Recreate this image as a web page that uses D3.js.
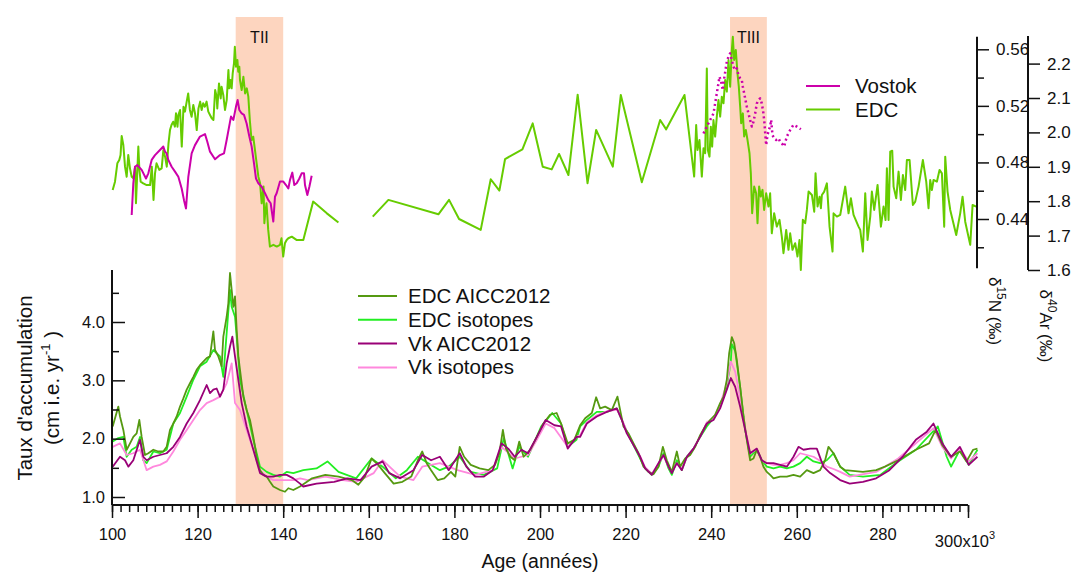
<!DOCTYPE html>
<html><head><meta charset="utf-8">
<script src="https://cdn.jsdelivr.net/npm/d3@7"></script>
<style>body{margin:0;background:#fff}svg{display:block}text{font-family:"Liberation Sans",Arial,sans-serif;fill:#111}</style>
</head><body><svg id="c" width="1074" height="572"></svg>
<script>
// ---------- DATA ----------
const xMajorTicks = [100,120,140,160,180,200,220,240,260,280,300];
const accTicks = [1.0,2.0,3.0,4.0];
const accMinorTicks = [1.5,2.5,3.5,4.5];
const d15NTicks = [0.44,0.48,0.52,0.56];
const d15NMinorTicks = [0.42,0.46,0.50,0.54];
const d40ArTicks = [1.6,1.7,1.8,1.9,2.0,2.1,2.2];
const terminations = [{name:"TII",start:128.9,end:140.0},{name:"TIII",start:244.4,end:253.0}];
const bottomLegend = ["EDC AICC2012","EDC isotopes","Vk AICC2012","Vk isotopes"];
const topLegend = ["Vostok","EDC"];

// EDC δ15N (top panel, two segments)
const edcD15N_a = [[100.16,0.4605],[100.7,0.4664],[101.25,0.4794],[101.7,0.4817],[102.0,0.4853],[102.26,0.4987],[102.65,0.4923],[103.04,0.4770],[103.43,0.4699],[103.8,0.4853],[104.2,0.4758],[104.6,0.4699],[105.0,0.4688],[105.4,0.4770],[105.6,0.4511],[105.9,0.4723],[106.15,0.4912],[106.4,0.4747],[106.7,0.4664],[107.3,0.4652],[108.1,0.4640],[108.9,0.4640],[109.3,0.4770],[109.7,0.4535],[110.05,0.4723],[110.4,0.4794],[111.05,0.4747],[111.6,0.4758],[112.0,0.4888],[112.4,0.4841],[112.8,0.4770],[113.2,0.4935],[113.55,0.5029],[113.9,0.5065],[114.3,0.5088],[114.7,0.5053],[114.95,0.5147],[115.3,0.5053],[115.5,0.5135],[115.9,0.5171],[116.3,0.4912],[116.7,0.5194],[117.05,0.5159],[117.45,0.5230],[117.8,0.5288],[118.2,0.5171],[118.6,0.5123],[119.0,0.5206],[119.4,0.5147],[119.8,0.5029],[120.2,0.5182],[120.6,0.5230],[120.95,0.5171],[121.3,0.5218],[121.7,0.5194],[122.1,0.5230],[122.5,0.5159],[122.9,0.5135],[123.3,0.5112],[123.7,0.5100],[124.1,0.5312],[124.45,0.5265],[124.6,0.5182],[125.0,0.5359],[125.4,0.5253],[125.6,0.5335],[126.0,0.5277],[126.4,0.5171],[126.8,0.5241],[127.2,0.5453],[127.4,0.5324],[127.7,0.5383],[127.96,0.5324],[128.2,0.5430],[128.5,0.5500],[128.7,0.5618],[128.97,0.5477],[129.3,0.5524],[129.5,0.5442],[129.75,0.5477],[129.9,0.5383],[130.3,0.5312],[130.7,0.5406],[131.1,0.5288],[131.5,0.5324],[131.85,0.5265],[132.2,0.5100],[132.6,0.4959],[133.0,0.4982],[133.4,0.4888],[133.8,0.4794],[134.2,0.4699],[134.6,0.4652],[134.97,0.4511],[135.4,0.4629],[135.6,0.4370],[135.8,0.4440],[136.1,0.4511],[136.5,0.4323],[136.9,0.4205],[137.7,0.4217],[138.5,0.4205],[139.25,0.4217],[139.6,0.4264],[140.0,0.4134],[140.4,0.4228],[140.8,0.4252],[141.2,0.4264],[142.0,0.4275],[143.1,0.4252],[144.7,0.4252],[147.0,0.4523],[150.2,0.4440],[152.9,0.4375]];
const edcD15N_b = [[160.92,0.4417],[164.58,0.4535],[176.26,0.4433],[178.75,0.4535],[181.09,0.4400],[186.15,0.4323],[188.49,0.4681],[190.51,0.4601],[191.84,0.4824],[195.89,0.4893],[198.3,0.5076],[200.64,0.4770],[202.74,0.4751],[204.45,0.4860],[206.64,0.4711],[208.8,0.5279],[211.1,0.4653],[213.12,0.5030],[217.01,0.4770],[218.88,0.5277],[223.79,0.4660],[228.07,0.5100],[229.48,0.5034],[233.76,0.5277],[236.02,0.4700],[236.49,0.5065],[236.8,0.4888],[237.26,0.4959],[237.81,0.4700],[238.2,0.4900],[238.59,0.4865],[238.98,0.5465],[239.21,0.4888],[239.6,0.4841],[239.91,0.5053],[240.22,0.4912],[240.53,0.5100],[240.92,0.4983],[241.31,0.5124],[241.7,0.5242],[242.09,0.5124],[242.48,0.5265],[242.87,0.5218],[243.26,0.5383],[243.65,0.5301],[244.04,0.5524],[244.43,0.5336],[244.82,0.5595],[245.05,0.5689],[245.36,0.5524],[245.75,0.5595],[246.14,0.5430],[246.45,0.5336],[246.77,0.5195],[247.0,0.5077],[247.39,0.5147],[247.7,0.4983],[248.09,0.5030],[248.48,0.4959],[248.95,0.4865],[249.26,0.4723],[249.57,0.4441],[250.04,0.4629],[250.5,0.4582],[250.82,0.4370],[251.2,0.4629],[251.6,0.4559],[251.99,0.4606],[252.37,0.4464],[252.84,0.4582],[253.38,0.4488],[253.77,0.4582],[254.16,0.4299],[254.71,0.4441],[255.33,0.4346],[255.96,0.4394],[256.5,0.4276],[256.89,0.4158],[257.52,0.4323],[258.06,0.4182],[258.45,0.4299],[258.99,0.4182],[259.62,0.4229],[260.16,0.4135],[260.63,0.4252],[260.94,0.4040],[261.41,0.4394],[261.96,0.4370],[262.35,0.4464],[262.75,0.4594],[263.53,0.4570],[264.07,0.4452],[264.38,0.4723],[264.85,0.4488],[265.32,0.4558],[265.63,0.4476],[265.86,0.4570],[266.41,0.4594],[267.03,0.4652],[267.65,0.4346],[268.35,0.4170],[268.59,0.4440],[269.37,0.4417],[270.15,0.4429],[271.31,0.4629],[272.09,0.4440],[272.64,0.4546],[273.26,0.4429],[274.43,0.4346],[274.82,0.4323],[275.44,0.4170],[275.99,0.4582],[276.53,0.4252],[277.16,0.4417],[277.54,0.4594],[278.09,0.4464],[278.87,0.4641],[279.65,0.4346],[280.27,0.4488],[280.74,0.4393],[281.05,0.4758],[281.44,0.4393],[281.83,0.4876],[282.3,0.4883],[282.61,0.4629],[283.23,0.4546],[283.78,0.4735],[284.32,0.4535],[284.79,0.4711],[285.33,0.4605],[285.72,0.4817],[286.35,0.4817],[287.12,0.4499],[287.67,0.4523],[288.45,0.4629],[289.46,0.4817],[290.24,0.4664],[290.78,0.4476],[291.17,0.4676],[291.56,0.4605],[291.95,0.4676],[292.73,0.4664],[293.35,0.4747],[293.9,0.4723],[294.44,0.4346],[294.68,0.4841],[295.22,0.4594],[295.85,0.4464],[297.25,0.4287],[298.18,0.4440],[298.73,0.4558],[299.35,0.4381],[300.52,0.4217],[301.07,0.4499],[301.92,0.4488]];
// Vostok δ40Ar (top panel)
const vostokD40Ar_TII = [[104.6,1.760],[104.98,1.852],[105.37,1.900],[105.92,1.905],[106.93,1.891],[107.94,1.866],[108.49,1.881],[109.27,1.920],[110.05,1.934],[111.21,1.949],[111.99,1.959],[112.38,1.944],[112.77,1.939],[113.16,1.920],[113.94,1.900],[114.72,1.886],[115.5,1.871],[116.28,1.837],[116.82,1.803],[117.29,1.779],[117.83,1.871],[118.61,1.939],[119.39,1.963],[120.56,1.988],[121.73,1.995],[122.27,1.973],[122.9,1.944],[124.07,1.922],[125.23,1.934],[126.17,1.939],[126.79,1.978],[127.8,2.046],[128.35,2.036],[128.97,2.075],[129.36,2.094],[129.75,2.065],[130.3,2.055],[130.84,2.051],[131.46,2.026],[132.09,1.988],[132.63,1.959],[133.18,1.910],[133.64,1.866],[134.19,1.852],[134.97,1.842],[135.75,1.823],[136.53,1.803],[137.07,1.794],[137.69,1.741],[138.08,1.813],[138.47,1.823],[139.25,1.857],[140.03,1.857],[140.65,1.847],[141.2,1.837],[141.59,1.862],[142.13,1.883],[142.6,1.847],[143.15,1.852],[143.77,1.866],[144.31,1.881],[144.86,1.881],[145.09,1.847],[145.64,1.818],[146.11,1.842],[146.65,1.874]];
const vostokD40Ar_TIII = [[238.2,1.997],[238.98,2.017],[239.75,2.036],[240.53,2.055],[240.92,2.084],[241.31,2.114],[241.7,2.143],[241.94,2.162],[242.33,2.147],[242.72,2.123],[243.03,2.157],[243.34,2.181],[243.65,2.206],[244.04,2.220],[244.43,2.230],[244.82,2.210],[245.21,2.191],[245.6,2.181],[245.98,2.186],[246.37,2.167],[246.77,2.157],[247.15,2.152],[247.39,2.133],[247.7,2.114],[248.01,2.094],[248.32,2.075],[248.71,2.055],[249.1,2.036],[249.49,2.017],[249.88,2.031],[250.27,2.055],[250.66,2.084],[251.05,2.094],[251.44,2.099],[251.83,2.084],[252.21,2.055],[252.45,2.026],[252.68,1.988],[252.84,1.963],[253.15,1.992],[253.46,2.007],[253.77,2.017],[254.0,2.036],[254.32,1.992],[254.71,1.983],[255.18,1.978],[255.72,1.983],[256.11,1.973],[256.5,1.968],[257.05,1.959],[257.67,1.988],[258.45,2.007],[259.22,2.022],[260.0,2.017],[260.94,2.009]];

// Accumulation rates (bottom panel)
const edcAicc = [[100.16,2.21],[101.48,2.55],[101.87,2.38],[102.65,2.15],[103.43,1.81],[104.21,1.92],[104.98,2.03],[105.76,2.09],[106.39,2.32],[106.93,2.03],[107.71,1.72],[108.49,1.75],[109.66,1.81],[110.83,1.78],[111.99,1.78],[112.77,1.86],[113.55,2.15],[114.33,2.26],[115.11,2.38],[115.89,2.55],[116.67,2.69],[117.45,2.84],[118.22,2.95],[119.0,3.06],[119.78,3.18],[120.56,3.26],[121.34,3.32],[122.12,3.38],[122.9,3.41],[123.68,3.84],[124.07,3.52],[124.84,3.41],[125.62,3.24],[126.01,3.75],[126.4,3.92],[126.79,4.09],[127.18,4.32],[127.57,4.84],[127.96,4.55],[128.35,4.26],[128.74,4.44],[129.13,3.86],[129.52,3.41],[129.91,3.18],[130.69,2.72],[131.46,2.49],[132.24,2.32],[133.02,2.03],[133.8,1.69],[134.58,1.46],[135.36,1.38],[136.14,1.35],[136.92,1.26],[137.69,1.18],[139.25,1.12],[140.42,1.09],[141.2,1.15],[142.37,1.12],[143.93,1.18],[146.75,1.32],[149.84,1.38],[152.93,1.35],[156.02,1.29],[157.56,1.21],[159.1,1.35],[160.65,1.66],[162.19,1.55],[163.74,1.41],[165.8,1.23],[167.86,1.26],[169.92,1.35],[171.46,1.63],[172.49,1.78],[173.52,1.58],[174.55,1.46],[176.09,1.29],[177.64,1.32],[179.18,1.43],[180.21,1.35],[181.24,1.86],[182.27,1.69],[183.82,1.55],[185.88,1.49],[187.93,1.46],[189.48,1.55],[190.51,1.75],[191.33,2.15],[192.05,1.83],[193.08,1.69],[194.11,1.63],[195.14,1.95],[196.17,1.69],[197.72,1.81],[199.26,2.03],[200.8,2.26],[202.35,2.41],[203.89,2.44],[204.92,2.26],[206.47,1.92],[208.01,1.98],[209.38,2.23],[210.55,2.35],[212.11,2.44],[213.12,2.71],[214.05,2.52],[215.22,2.55],[216.78,2.49],[218.1,2.72],[218.73,2.49],[219.5,2.21],[220.67,2.09],[221.84,1.92],[223.01,1.75],[224.18,1.52],[225.35,1.43],[226.51,1.39],[227.68,1.52],[228.7,1.86],[229.63,1.63],[230.8,1.43],[231.97,1.78],[232.74,1.52],[233.91,1.66],[235.08,1.72],[236.25,1.86],[237.42,2.06],[238.59,2.21],[239.75,2.32],[240.92,2.41],[242.09,2.61],[242.87,2.72],[243.65,3.01],[244.19,3.46],[244.82,3.74],[245.36,3.64],[245.98,3.35],[246.76,2.89],[247.54,2.38],[248.32,1.98],[249.1,1.63],[249.88,1.66],[250.66,1.81],[251.44,1.69],[252.21,1.52],[252.99,1.43],[253.77,1.38],[254.55,1.32],[256.11,1.35],[257.67,1.35],[259.22,1.38],[260.78,1.35],[262.34,1.46],[263.9,1.41],[265.45,1.46],[266.62,1.63],[267.4,1.86],[268.57,1.75],[270.13,1.52],[271.3,1.46],[275.45,1.43],[278.54,1.46],[280.6,1.52],[283.69,1.63],[287.81,1.81],[290.9,1.92],[292.44,2.15],[293.99,1.89],[296.05,1.69],[298.11,1.78],[299.65,1.61],[301.2,1.81],[302.2,1.83]];
const edcIso = [[100.16,1.95],[101.48,2.01],[102.65,2.03],[103.43,1.69],[104.6,1.81],[105.76,1.86],[106.54,2.03],[107.32,1.63],[108.1,1.58],[109.66,1.78],[111.21,1.75],[112.77,1.81],[114.33,2.26],[115.89,2.44],[117.45,2.72],[119.0,3.01],[120.56,3.24],[122.12,3.32],[123.68,3.52],[125.23,3.41],[126.01,3.06],[126.79,3.81],[127.57,4.55],[127.96,4.26],[128.74,4.09],[129.13,3.75],[129.91,3.01],[131.46,2.49],[133.02,1.98],[134.58,1.52],[136.14,1.43],[137.69,1.38],[139.25,1.35],[140.81,1.43],[142.37,1.41],[144.69,1.46],[147.78,1.49],[150.35,1.61],[152.93,1.43],[157.04,1.32],[160.65,1.66],[163.22,1.52],[166.31,1.32],[168.89,1.46],[171.46,1.69],[174.55,1.55],[176.61,1.46],[178.67,1.52],[181.24,1.69],[183.82,1.43],[186.9,1.38],[189.99,1.49],[191.54,2.01],[193.6,1.49],[195.14,1.86],[197.2,1.69],[200.29,2.21],[202.86,2.44],[204.92,2.26],[206.47,1.86],[208.53,1.98],[209.38,2.21],[210.94,2.32],[213.27,2.46],[215.61,2.46],[217.95,2.52],[219.11,2.32],[220.67,2.06],[221.84,1.89],[223.4,1.66],[224.57,1.49],[226.12,1.38],[227.68,1.52],[228.85,1.75],[230.02,1.49],[230.8,1.38],[231.97,1.63],[233.13,1.46],[234.3,1.69],[235.86,1.83],[237.42,2.03],[238.97,2.21],[240.53,2.35],[242.09,2.55],[243.65,2.89],[244.58,3.32],[244.82,3.62],[245.6,3.50],[246.76,2.89],[247.93,2.15],[249.1,1.69],[250.66,1.81],[251.83,1.63],[252.99,1.52],[254.55,1.49],[256.11,1.52],[257.67,1.49],[259.22,1.52],[260.78,1.58],[262.34,1.69],[263.9,1.61],[265.45,1.58],[267.01,1.63],[268.57,1.75],[270.13,1.52],[272.36,1.38],[275.45,1.35],[279.57,1.38],[283.69,1.61],[287.81,1.81],[291.41,2.09],[292.96,2.21],[295.02,1.69],[296.05,1.52],[298.11,1.81],[300.17,1.55],[302.2,1.81]];
const vkAicc = [[100.16,1.52],[101.87,1.69],[103.04,1.63],[103.82,1.52],[104.98,1.63],[106.54,1.98],[107.32,1.69],[108.1,1.63],[109.66,1.69],[111.21,1.72],[112.77,1.75],[114.33,1.86],[115.89,2.03],[117.45,2.26],[119.0,2.44],[120.56,2.66],[122.12,2.92],[122.9,2.78],[123.68,2.84],[124.45,2.86],[125.23,2.72],[126.01,2.84],[126.79,3.29],[127.57,3.58],[128.12,3.75],[128.74,3.41],[129.52,3.01],[130.3,2.61],[131.46,2.21],[133.02,1.81],[134.58,1.41],[136.14,1.35],[137.69,1.35],[139.25,1.38],[140.81,1.38],[142.37,1.32],[143.93,1.23],[144.69,1.18],[147.78,1.23],[151.9,1.26],[154.99,1.32],[158.07,1.29],[160.65,1.52],[163.22,1.61],[164.77,1.41],[167.34,1.32],[170.43,1.46],[172.49,1.72],[174.55,1.63],[176.61,1.69],[178.67,1.46],[181.24,1.75],[182.79,1.52],[184.85,1.35],[186.9,1.35],[188.96,1.46],[191.02,1.92],[192.57,1.83],[194.11,1.69],[195.66,1.81],[197.2,1.75],[199.26,2.03],[201.32,2.32],[203.38,2.23],[204.92,2.21],[206.47,1.83],[208.53,2.03],[209.38,2.03],[210.94,2.26],[213.27,2.38],[215.61,2.46],[217.95,2.52],[219.11,2.32],[220.28,2.09],[221.84,1.89],[223.4,1.69],[224.57,1.49],[226.12,1.38],[227.68,1.58],[228.85,1.72],[230.02,1.52],[230.8,1.41],[231.97,1.58],[233.13,1.46],[234.3,1.69],[235.86,1.83],[237.42,2.03],[238.97,2.26],[240.53,2.32],[242.09,2.52],[243.65,2.84],[244.58,3.04],[245.6,2.89],[246.76,2.55],[247.93,2.15],[249.1,1.75],[250.66,1.83],[251.83,1.63],[252.99,1.58],[254.55,1.58],[256.11,1.55],[257.67,1.52],[259.22,1.69],[260.39,1.86],[261.56,1.81],[263.12,1.83],[264.68,1.83],[266.23,1.52],[267.79,1.41],[270.13,1.29],[272.36,1.23],[275.45,1.26],[278.54,1.32],[281.63,1.46],[284.72,1.69],[287.81,1.98],[290.38,2.12],[291.93,2.26],[293.99,1.92],[296.05,1.69],[298.11,1.86],[300.17,1.55],[302.2,1.69]];
const vkIso = [[100.16,1.86],[101.87,1.92],[103.43,1.72],[104.98,1.75],[106.54,1.81],[108.1,1.46],[109.66,1.52],[111.21,1.55],[112.77,1.61],[114.33,1.78],[115.89,1.98],[117.45,2.15],[119.0,2.32],[120.56,2.49],[122.12,2.61],[123.68,2.66],[125.23,2.72],[126.79,2.95],[127.96,3.29],[128.74,2.61],[129.91,2.49],[131.46,2.15],[133.02,1.81],[134.58,1.46],[136.14,1.35],[137.69,1.29],[139.25,1.29],[140.81,1.29],[142.37,1.29],[143.93,1.32],[145.72,1.29],[149.84,1.35],[153.96,1.29],[157.04,1.26],[161.16,1.41],[163.22,1.63],[167.34,1.35],[170.43,1.29],[172.49,1.52],[176.61,1.58],[180.73,1.46],[184.85,1.38],[188.96,1.46],[191.02,1.86],[194.11,1.66],[197.2,1.72],[199.26,1.98],[201.32,2.26],[203.38,2.18],[206.47,1.86],[208.53,2.03],[209.38,2.06],[210.94,2.28],[213.27,2.40],[215.61,2.47],[217.95,2.50],[219.11,2.34],[220.28,2.12],[221.84,1.91],[223.4,1.70],[224.57,1.51],[226.12,1.40],[227.68,1.57],[228.85,1.71],[230.02,1.53],[230.8,1.43],[231.97,1.58],[233.13,1.48],[234.3,1.68],[235.86,1.83],[237.42,2.04],[238.97,2.28],[240.53,2.35],[242.09,2.58],[243.65,2.95],[244.58,3.32],[245.6,3.15],[246.76,2.70],[247.93,2.18],[249.1,1.75],[250.66,1.82],[251.83,1.62],[252.99,1.58],[254.55,1.55],[256.11,1.55],[257.67,1.58],[259.22,1.63],[260.78,1.75],[262.34,1.72],[263.9,1.69],[265.45,1.62],[267.01,1.52],[268.57,1.48],[270.13,1.43],[272.36,1.35],[278.54,1.43],[283.69,1.66],[287.81,1.92],[291.93,2.18],[293.99,1.86],[296.05,1.66],[298.11,1.83],[300.17,1.61],[302.2,1.75]];

// ---------- CHART ----------
const colors = {vostok:"#cc00aa", edcTop:"#66cc00", edcAicc:"#559911", edcIso:"#22ee22", vkAicc:"#990077", vkIso:"#ff88dd", band:"#fdd5bf"};
const svg = d3.select("#c");
const x = d3.scaleLinear().domain([100,300]).range([112,968]);
const yAcc = d3.scaleLinear().domain([1,4]).range([497,322]);
const yN = d3.scaleLinear().domain([0.44,0.56]).range([219,49.3]);
const yAr = d3.scaleLinear().domain([1.6,2.2]).range([270,63.6]);

// termination bands
const bands = svg.append("g");
terminations.forEach(t=>{
  bands.append("rect").attr("x",x(t.start)).attr("y",17).attr("width",x(t.end)-x(t.start)).attr("height",505-17).attr("fill",colors.band);
  bands.append("text").attr("x",(x(t.start)+x(t.end))/2).attr("y",43).attr("text-anchor","middle").attr("font-size",16).text(t.name);
});

function drawLine(data, yScale, color, width, dash){
  const line = d3.line().x(d=>x(d[0])).y(d=>yScale(d[1]));
  const p = svg.append("path").datum(data).attr("d",line).attr("fill","none").attr("stroke",color).attr("stroke-width",width).attr("stroke-linejoin","round");
  if(dash) p.attr("stroke-dasharray",dash);
  return p;
}

// top panel
drawLine(edcD15N_a, yN, colors.edcTop, 2);
drawLine(edcD15N_b, yN, colors.edcTop, 2);
drawLine(vostokD40Ar_TII, yAr, colors.vostok, 2);
drawLine(vostokD40Ar_TIII, yAr, colors.vostok, 2.5, "2,3");

// bottom panel
drawLine(edcIso, yAcc, colors.edcIso, 1.8);
drawLine(vkIso, yAcc, colors.vkIso, 1.8);
drawLine(edcAicc, yAcc, colors.edcAicc, 1.8);
drawLine(vkAicc, yAcc, colors.vkAicc, 1.8);

// axes
function styleAxis(g){ g.selectAll(".domain").remove(); g.selectAll("line").attr("stroke","#111").attr("stroke-width",1.5); g.selectAll("text").attr("fill","#111").style("font-family",'"Liberation Sans",Arial,sans-serif'); }

// x axis
const gx = svg.append("g").attr("transform","translate(0,505)");
gx.append("g").call(d3.axisBottom(x).tickValues(d3.range(100,301,2)).tickSize(7).tickFormat("")).call(styleAxis);
gx.append("g").call(d3.axisBottom(x).tickValues(xMajorTicks).tickSize(13).tickPadding(10).tickFormat(d=>d===300?"":d)).call(styleAxis).selectAll("text").attr("font-size",16.5);
gx.append("line").attr("x1",x(100)).attr("x2",x(300)).attr("stroke","#111").attr("stroke-width",2);
const lbl300 = gx.append("text").attr("x",x(300)-3).attr("y",42).attr("text-anchor","middle").attr("font-size",16.5);
lbl300.append("tspan").text("300x10");
lbl300.append("tspan").attr("dy",-8).attr("font-size",11).text("3");
svg.append("text").attr("x",540).attr("y",568).attr("text-anchor","middle").attr("font-size",19.5).text("Age (années)");

// left accumulation axis
const gy = svg.append("g").attr("transform","translate(112,0)");
gy.append("g").call(d3.axisLeft(yAcc).tickValues(accMinorTicks).tickSize(-7).tickFormat("")).call(styleAxis);
gy.append("g").call(d3.axisLeft(yAcc).tickValues(accTicks).tickSize(-13).tickPadding(7).tickFormat(d3.format(".1f"))).call(styleAxis).selectAll("text").attr("font-size",16.5);
gy.append("line").attr("y1",270).attr("y2",505).attr("stroke","#111").attr("stroke-width",2);
const yt = svg.append("g").attr("transform","translate(32,388) rotate(-90)");
yt.append("text").attr("text-anchor","middle").attr("font-size",20.5).text("Taux d'accumulation");
const yt2 = svg.append("text").attr("transform","translate(59,388) rotate(-90)").attr("text-anchor","middle").attr("font-size",20.5);
yt2.append("tspan").text("(cm i.e. yr");
yt2.append("tspan").attr("dy",-9).attr("font-size",13).text("-1");
yt2.append("tspan").attr("dy",9).text(" )");

// right δ15N axis
const gN = svg.append("g").attr("transform","translate(977,0)");
gN.append("g").call(d3.axisRight(yN).tickValues(d15NMinorTicks).tickSize(7).tickFormat("")).call(styleAxis);
gN.append("g").call(d3.axisRight(yN).tickValues(d15NTicks).tickSize(12).tickPadding(7).tickFormat(d3.format(".2f"))).call(styleAxis).selectAll("text").attr("font-size",17);
gN.append("line").attr("y1",36.7).attr("y2",268.3).attr("stroke","#111").attr("stroke-width",2);
const tN = svg.append("text").attr("transform","translate(989,311) rotate(90)").attr("text-anchor","middle").attr("font-size",17);
tN.append("tspan").text("δ");
tN.append("tspan").attr("dy",-8).attr("font-size",12).text("15");
tN.append("tspan").attr("dy",8).text("N (‰)");

// right δ40Ar axis
const gAr = svg.append("g").attr("transform","translate(1028,0)");
gAr.append("g").call(d3.axisRight(yAr).tickValues(d40ArTicks).tickSize(12).tickPadding(7).tickFormat(d3.format(".1f"))).call(styleAxis).selectAll("text").attr("font-size",17);
gAr.append("line").attr("y1",36).attr("y2",270).attr("stroke","#111").attr("stroke-width",2);
const tAr = svg.append("text").attr("transform","translate(1040,326) rotate(90)").attr("text-anchor","middle").attr("font-size",17);
tAr.append("tspan").text("δ");
tAr.append("tspan").attr("dy",-8).attr("font-size",12).text("40");
tAr.append("tspan").attr("dy",8).text("Ar (‰)");

// top legend
const topCols = [colors.vostok, colors.edcTop];
topLegend.forEach((name,i)=>{
  const yy = 86 + i*23.5;
  svg.append("line").attr("x1",806).attr("x2",840).attr("y1",yy).attr("y2",yy).attr("stroke",topCols[i]).attr("stroke-width",2);
  svg.append("text").attr("x",855).attr("y",yy+7).attr("font-size",20.5).text(name);
});
// bottom legend
const botCols = [colors.edcAicc, colors.edcIso, colors.vkAicc, colors.vkIso];
bottomLegend.forEach((name,i)=>{
  const yy = 296 + i*23.8;
  svg.append("line").attr("x1",358).attr("x2",397).attr("y1",yy).attr("y2",yy).attr("stroke",botCols[i]).attr("stroke-width",2);
  svg.append("text").attr("x",408).attr("y",yy+7).attr("font-size",20.5).text(name);
});
</script></body></html>
